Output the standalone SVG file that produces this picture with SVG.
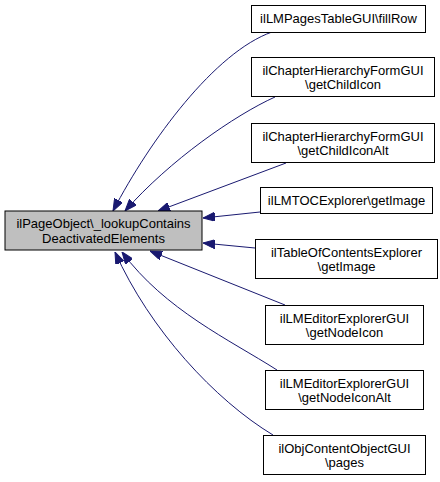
<svg xmlns="http://www.w3.org/2000/svg" width="440" height="482" viewBox="0 0 440 482">
<style>
  .node rect { fill: #ffffff; stroke: #000000; stroke-width: 1; }
  .node.main rect { fill: #bfbfbf; }
  .node text { font-family: "Liberation Sans", Arial, Helvetica, sans-serif; font-size: 13px; text-anchor: middle; fill: #000000; }
  .edge { fill: none; stroke: #191970; stroke-width: 1; marker-end: url(#arrow); }
</style>
<defs>
  <marker id="arrow" viewBox="0 0 12 9" refX="12" refY="4.5" markerWidth="12" markerHeight="9" markerUnits="userSpaceOnUse" orient="auto">
    <path d="M0,0 L12,4.5 L0,9 z" fill="#191970" stroke="#191970" stroke-width="1"/>
  </marker>
</defs>
<rect width="440" height="482" fill="#ffffff"/>
<g id="edges">
  <path class="edge" d="M272,32 C215,52 150,140 113,211"/>
  <path class="edge" d="M275,97 C235,115 170,160 125,211"/>
  <path class="edge" d="M286,163 L158,211"/>
  <path class="edge" d="M260,212 L203,218"/>
  <path class="edge" d="M255,248 L203,243"/>
  <path class="edge" d="M285,305 L150,251"/>
  <path class="edge" d="M277,370 C230,340 165,310 122,252"/>
  <path class="edge" d="M273,435 C215,400 150,330 115,252"/>
</g>
<g id="node-main" class="node main">
  <rect x="5" y="211" width="197" height="39"/>
  <text x="103.5" y="228.3">ilPageObject\_lookupContains</text>
  <text x="103.5" y="242.9">DeactivatedElements</text>
</g>
<g id="node-fillRow" class="node">
  <rect x="251.5" y="5.5" width="174" height="27"/>
  <text x="338.5" y="23">ilLMPagesTableGUI\fillRow</text>
</g>
<g id="node-getChildIcon" class="node">
  <rect x="251.5" y="57.5" width="183" height="39"/>
  <text x="343" y="74.8">ilChapterHierarchyFormGUI</text>
  <text x="343" y="89.4">\getChildIcon</text>
</g>
<g id="node-getChildIconAlt" class="node">
  <rect x="251.5" y="123.5" width="183" height="39"/>
  <text x="343" y="140.8">ilChapterHierarchyFormGUI</text>
  <text x="343" y="155.4">\getChildIconAlt</text>
</g>
<g id="node-lmtoc" class="node">
  <rect x="260.5" y="187.5" width="172" height="26"/>
  <text x="346.5" y="205">ilLMTOCExplorer\getImage</text>
</g>
<g id="node-toc" class="node">
  <rect x="255.5" y="239.5" width="182" height="39"/>
  <text x="346.5" y="256.8">ilTableOfContentsExplorer</text>
  <text x="346.5" y="271.4">\getImage</text>
</g>
<g id="node-getNodeIcon" class="node">
  <rect x="265.5" y="305.5" width="158" height="39"/>
  <text x="344.5" y="322.8">ilLMEditorExplorerGUI</text>
  <text x="344.5" y="337.4">\getNodeIcon</text>
</g>
<g id="node-getNodeIconAlt" class="node">
  <rect x="265.5" y="370.5" width="158" height="39"/>
  <text x="344.5" y="387.8">ilLMEditorExplorerGUI</text>
  <text x="344.5" y="402.4">\getNodeIconAlt</text>
</g>
<g id="node-pages" class="node">
  <rect x="263.5" y="435.5" width="162" height="39"/>
  <text x="344.5" y="452.8">ilObjContentObjectGUI</text>
  <text x="344.5" y="467.4">\pages</text>
</g>
</svg>
